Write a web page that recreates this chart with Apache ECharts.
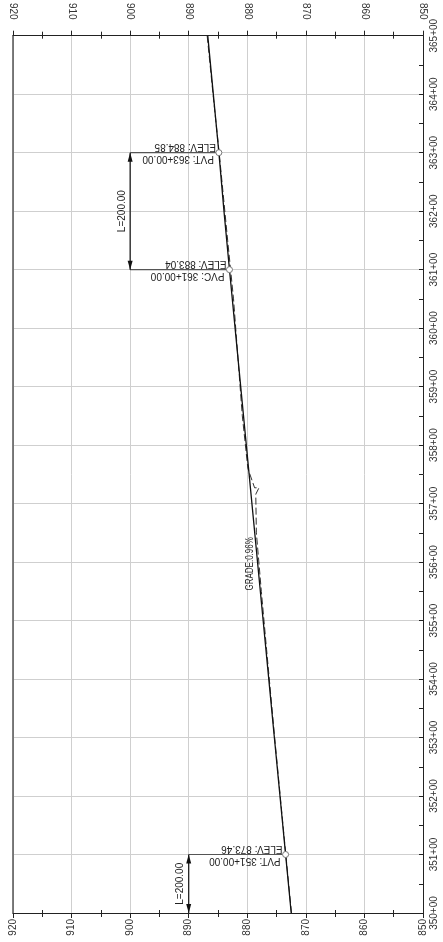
<!DOCTYPE html>
<html><head><meta charset="utf-8">
<script src="https://cdn.jsdelivr.net/npm/echarts@6/dist/echarts.min.js"></script>
<style>html,body{margin:0;padding:0;background:#fff}#c{width:443px;height:942px}</style>
</head><body><div id="c"></div>
<script>
// Axis ranges
const elevMin = 850, elevMax = 920, elevStep = 10;
const staMin = 35000, staMax = 36500, staStep = 100;

// Proposed profile (station, elevation)
const profileSta  = [35000, 35100, 36100, 36200, 36300, 36500];
const profileElev = [872.50, 873.46, 883.04, 883.98, 884.85, 886.75];

// Existing ground (dashed)
const groundSta  = [35000, 35100, 35300, 35450, 35550, 35650, 35716, 35727, 35727, 35760, 35850, 35950, 36050, 36150, 36300, 36400, 36500];
const groundElev = [872.45, 873.42, 875.33, 876.70, 877.60, 878.45, 878.55, 878.00, 878.75, 879.90, 880.85, 881.60, 882.35, 883.35, 884.80, 885.85, 886.85];

// Labelled points
const pointSta  = [35100, 36100, 36300];
const pointElev = [873.46, 883.04, 884.85];
const pointType = ['PVT', 'PVC', 'PVT'];
const leaderElev = [890, 900, 900];

// Curve length dimensions
const dimFromSta = [35000, 36100];
const dimToSta   = [35100, 36300];
const dimElev    = [890, 900];
const dimText    = ['L=200.00', 'L=200.00'];

// Grade label
const gradeText = 'GRADE:0.96%';
const gradeSta = 35597, gradeElev = 879.45;

const FONT = '"Liberation Sans", Arial, sans-serif';
const fmtSta = s => Math.floor(s / 100) + '+' + String(Math.round(s % 100)).padStart(2, '0');

const chart = echarts.init(document.getElementById('c'));

const xBase = {
  type: 'value', min: elevMin, max: elevMax, interval: elevStep, inverse: true,
  axisLine: { show: true, lineStyle: { color: '#222', width: 1 } },
  axisTick: { show: true, length: 5, lineStyle: { color: '#222' } },
  minorTick: { show: true, splitNumber: 2, length: 4, lineStyle: { color: '#222' } },
  splitLine: { show: false },
  axisLabel: { rotate: 90, fontSize: 10, fontFamily: FONT, color: '#333', showMinLabel: true, showMaxLabel: true }
};
const xInner = pos => ({
  type: 'value', position: pos, min: elevMin, max: elevMax, interval: elevStep, inverse: true,
  axisLine: { show: false }, axisLabel: { show: false }, splitLine: { show: false },
  axisTick: { show: false, inside: true },
  minorTick: { show: true, splitNumber: 2, length: 3, lineStyle: { color: '#222' } }
});

chart.setOption({
  animation: false,
  grid: { left: 13, right: 20, top: 33, bottom: 29, containLabel: false },
  xAxis: [
    Object.assign({}, xBase, { position: 'top',
      splitLine: { show: true, lineStyle: { color: '#cfcfcf', width: 1 } },
      axisLabel: Object.assign({}, xBase.axisLabel, { margin: 16 }) }),
    Object.assign({}, xBase, { position: 'bottom',
      axisLabel: Object.assign({}, xBase.axisLabel, { margin: 6 }) }),
    xInner('top'),
    xInner('bottom')
  ],
  yAxis: [
    { type: 'value', position: 'right', min: staMin, max: staMax, interval: staStep,
      axisLine: { show: true, lineStyle: { color: '#222', width: 1 } },
      axisTick: { show: true, inside: true, length: 4, lineStyle: { color: '#222' } },
      minorTick: { show: true, splitNumber: 2, length: 4, lineStyle: { color: '#222' } },
      splitLine: { show: true, lineStyle: { color: '#cfcfcf', width: 1 } },
      axisLabel: { rotate: 90, margin: 6, fontSize: 10, fontFamily: FONT, color: '#333',
        showMinLabel: true, showMaxLabel: true, formatter: v => fmtSta(v) } },
    { type: 'value', position: 'left', min: staMin, max: staMax, interval: staStep,
      axisLine: { show: true, lineStyle: { color: '#555', width: 1.5 } },
      axisTick: { show: false }, axisLabel: { show: false }, splitLine: { show: false } }
  ],
  series: [
    { type: 'line', name: 'ground', xAxisIndex: 0, yAxisIndex: 0, showSymbol: false, z: 3,
      data: groundSta.map((s, i) => [groundElev[i], s]),
      lineStyle: { color: '#333', width: 1, type: [7, 3] } },
    { type: 'line', name: 'profile', xAxisIndex: 0, yAxisIndex: 0, showSymbol: false, z: 4,
      data: profileSta.map((s, i) => [profileElev[i], s]),
      lineStyle: { color: '#111', width: 1.3 } },
    { type: 'custom', name: 'points', xAxisIndex: 0, yAxisIndex: 0, z: 5,
      data: pointSta.map((s, i) => [pointElev[i], s, leaderElev[i], i]),
      renderItem: (params, api) => {
        const i = api.value(3);
        const p = api.coord([api.value(0), api.value(1)]);
        const q = api.coord([api.value(2), api.value(1)]);
        return { type: 'group', children: [
          { type: 'line', shape: { x1: q[0], y1: q[1], x2: p[0] - 3, y2: p[1] },
            style: { stroke: '#555', lineWidth: 1.2 } },
          { type: 'circle', shape: { cx: p[0], cy: p[1], r: 3 },
            style: { fill: '#fff', stroke: '#777', lineWidth: 1 } },
          { type: 'text', x: p[0] - 3, y: p[1] - 1, rotation: Math.PI,
            style: { text: 'ELEV: ' + pointElev[i].toFixed(2), align: 'left', verticalAlign: 'top',
              font: '10px ' + FONT, fill: '#222' } },
          { type: 'text', x: p[0] - 5, y: p[1] + 1, rotation: Math.PI,
            style: { text: pointType[i] + ': ' + fmtSta(pointSta[i]) + '.00', align: 'left', verticalAlign: 'bottom',
              font: '10px ' + FONT, fill: '#222' } }
        ] };
      } },
    { type: 'custom', name: 'dims', xAxisIndex: 0, yAxisIndex: 0, z: 5,
      data: dimElev.map((e, i) => [e, dimFromSta[i], dimToSta[i], i]),
      renderItem: (params, api) => {
        const i = api.value(3);
        const a = api.coord([api.value(0), api.value(1)]);
        const b = api.coord([api.value(0), api.value(2)]);
        const aw = 2.5, al = 9;
        return { type: 'group', children: [
          { type: 'line', shape: { x1: a[0], y1: a[1], x2: b[0], y2: b[1] },
            style: { stroke: '#111', lineWidth: 1.2 } },
          { type: 'polygon', shape: { points: [[b[0], b[1]], [b[0] - aw, b[1] + al], [b[0] + aw, b[1] + al]] },
            style: { fill: '#111' } },
          { type: 'polygon', shape: { points: [[a[0], a[1]], [a[0] - aw, a[1] - al], [a[0] + aw, a[1] - al]] },
            style: { fill: '#111' } },
          { type: 'text', x: a[0] - 3, y: (a[1] + b[1]) / 2, rotation: Math.PI / 2,
            style: { text: dimText[i], align: 'center', verticalAlign: 'bottom', font: '10px ' + FONT, fill: '#222' } }
        ] };
      } },
    { type: 'custom', name: 'grade', xAxisIndex: 0, yAxisIndex: 0, z: 5,
      data: [[gradeElev, gradeSta]],
      renderItem: (params, api) => {
        const p = api.coord([api.value(0), api.value(1)]);
        return { type: 'text', x: p[0], y: p[1], rotation: Math.PI / 2, scaleX: 0.8,
          style: { text: gradeText, align: 'center', verticalAlign: 'middle', font: '10px ' + FONT, fill: '#222' } };
      } }
  ]
});
</script></body></html>
